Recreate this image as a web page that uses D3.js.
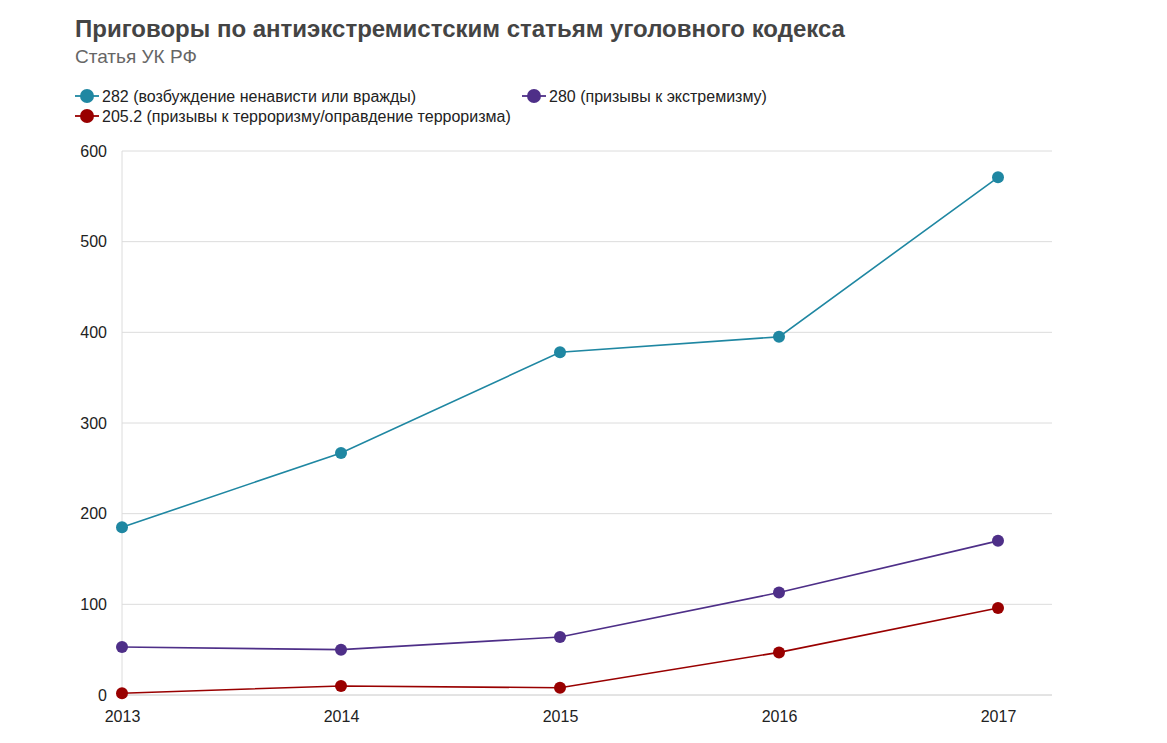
<!DOCTYPE html>
<html>
<head>
<meta charset="utf-8">
<script src="https://cdn.jsdelivr.net/npm/d3@7"></script>
<style>
  body { margin: 0; background: #fff; }
  text { font-family: "Liberation Sans", Arial, sans-serif; }
</style>
</head>
<body>
<div id="canvas"></div>
<script>
// Chart data
var years = [2013, 2014, 2015, 2016, 2017];
var art282 = [185, 267, 378, 395, 571];
var art280 = [53, 50, 64, 113, 170];
var art2052 = [2, 10, 8, 47, 96];
var yTicks = [0, 100, 200, 300, 400, 500, 600];

var seriesNames = ["282 (возбуждение ненависти или вражды)", "280 (призывы к экстремизму)", "205.2 (призывы к терроризму/оправдение терроризма)"];
var seriesColors = ["#1f87a2", "#4e2f88", "#990000"];

var w = 1167, h = 743;
var margin = {top: 151, right: 115, bottom: 48, left: 122};

var svg = d3.select("#canvas")
    .append("svg")
    .attr("width", w)
    .attr("height", h);

var x_scale = d3.scalePoint()
    .domain(years)
    .range([margin.left, 998]);

var y_scale = d3.scaleLinear()
    .domain([0, 600])
    .range([h - margin.bottom, margin.top]);

// Title
svg.append("text")
    .attr("x", 75).attr("y", 37)
    .style("font-size", "24px").style("font-weight", "bold").style("fill", "#444")
    .text("Приговоры по антиэкстремистским статьям уголовного кодекса");

svg.append("text")
    .attr("x", 75).attr("y", 63)
    .style("font-size", "19px").style("fill", "#666")
    .text("Статья УК РФ");

// Gridlines
svg.append("g")
    .selectAll("line")
    .data(yTicks)
    .join("line")
    .attr("x1", margin.left).attr("x2", w - margin.right)
    .attr("y1", d => y_scale(d)).attr("y2", d => y_scale(d))
    .attr("stroke", d => d === 0 ? "#c8c8c8" : "#dcdcdc")
    .attr("stroke-width", 1);

svg.append("line")
    .attr("x1", margin.left).attr("x2", margin.left)
    .attr("y1", margin.top).attr("y2", h - margin.bottom)
    .attr("stroke", "#dcdcdc");

// Axes
var yAxis = svg.append("g")
    .attr("transform", `translate(${margin.left - 15},0)`)
    .call(d3.axisLeft(y_scale).tickValues(yTicks).tickSize(0).tickPadding(0));
yAxis.select(".domain").remove();
yAxis.selectAll("text").style("font-size", "16px").style("fill", "#222")
    .style("font-family", "'Liberation Sans', Arial, sans-serif");

var xAxis = svg.append("g")
    .attr("transform", `translate(0,${h - margin.bottom + 16})`)
    .call(d3.axisBottom(x_scale).tickSize(0).tickPadding(0));
xAxis.select(".domain").remove();
xAxis.selectAll("text").style("font-size", "16px").style("fill", "#222")
    .style("font-family", "'Liberation Sans', Arial, sans-serif");

// Lines and points
var series = [art282, art280, art2052];
var line = d3.line()
    .x((d, i) => x_scale(years[i]))
    .y(d => y_scale(d));

series.slice().reverse().forEach(function(vals, j) {
    var idx = series.length - 1 - j;
    svg.append("path")
        .datum(vals)
        .attr("d", line)
        .attr("fill", "none")
        .attr("stroke", seriesColors[idx])
        .attr("stroke-width", 1.6);
    svg.append("g")
        .selectAll("circle")
        .data(vals)
        .join("circle")
        .attr("cx", (d, i) => x_scale(years[i]))
        .attr("cy", d => y_scale(d))
        .attr("r", 6)
        .attr("fill", seriesColors[idx]);
});

// Legend
var legendPos = [[87, 96], [534, 96], [87, 116]];
var legend = svg.append("g")
    .selectAll("g")
    .data(seriesNames)
    .join("g")
    .attr("transform", (d, i) => `translate(${legendPos[i][0]},${legendPos[i][1]})`);

legend.append("line")
    .attr("x1", -12).attr("x2", 12)
    .attr("stroke", (d, i) => seriesColors[i]).attr("stroke-width", 1.8);
legend.append("circle")
    .attr("r", 7)
    .attr("fill", (d, i) => seriesColors[i]);
legend.append("text")
    .attr("x", 15).attr("dy", "0.35em")
    .style("font-size", "16px").style("fill", "#222")
    .text(d => d);
</script>
</body>
</html>
